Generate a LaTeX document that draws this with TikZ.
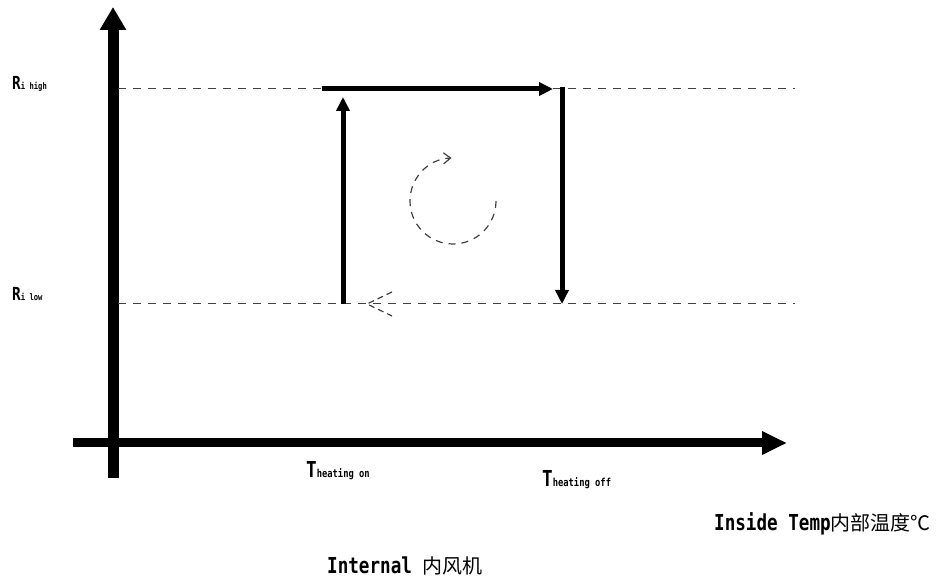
\documentclass[tikz,border=0pt]{standalone}
\usepackage{fontspec}
\usetikzlibrary{arrows.meta}
\newfontfamily\cjk{Noto Sans CJK SC}
\newfontfamily\latfont[FakeStretch=0.8]{DejaVu Sans Mono}
\begin{document}
\begin{tikzpicture}[x=1pt, y=1pt, >={Triangle[length=14pt,width=13pt]}]
            \tikzset{every node/.style={inner sep=0pt, font=\latfont\bfseries},
                thres/.style={black!75, line width=1pt, dash pattern=on 8pt off 7pt},
                loop/.style={line width=5pt, ->}}
            \def\xmin{73}\def\xmax{787}\def\ymin{105}\def\ymax{576}
            \def\ylow{279}\def\yhigh{494}\def\ton{343}\def\toff{562}
            \useasboundingbox (0,0) rectangle (951,583);
            \draw[line width=9pt, -{Triangle[length=25pt,width=22pt]}] (\xmin,140)--(\xmax,140);
            \draw[line width=11pt, -{Triangle[length=23pt,width=25pt]}] (113,\ymin)--(113,\ymax);
            \draw[thres] (118,\yhigh)--(795,\yhigh);
            \draw[thres] (118,\ylow)--(795,\ylow);
            \coordinate (onlow) at (\ton,\ylow);
            \coordinate (onhigh) at (\ton,\yhigh);
            \coordinate (topstart) at (322,\yhigh);
            \coordinate (offhigh) at (\toff,\yhigh);
            \coordinate (offtop) at (\toff,496);
            \coordinate (offlow) at (\toff,\ylow);
            \coordinate (ring) at (453,382);
            \draw[loop, shorten >=8pt] (onlow)--(onhigh);
            \draw[loop, shorten >=9pt] (topstart)--(offhigh);
            \draw[loop] (offtop)--(offlow);
            % direction of the cycle
            \draw[black!75, line width=1.2pt, dash pattern=on 7pt off 6pt, -{Straight Barb[length=7pt,width=11pt]}]
                (ring) ++(0:43) arc[start angle=0, end angle=-268, radius=43];
            \draw[black!75, line width=1.2pt, dash pattern=on 6pt off 4pt] (392,291)--(367,\ylow)--(392,267);
            \node[anchor=base west] (rhigh) at (12,493) {\fontsize{18}{20}\selectfont R\fontsize{9}{10}\selectfont i high};
            \node[anchor=base west] (rlow) at (12,282) {\fontsize{18}{20}\selectfont R\fontsize{9}{10}\selectfont i low};
            \node[anchor=base west] (tonlabel) at (306,105) {\fontsize{22}{24}\selectfont T\fontsize{11}{12}\selectfont heating on};
            \node[anchor=base west] (tofflabel) at (542,96) {\fontsize{22}{24}\selectfont T\fontsize{11}{12}\selectfont heating off};
            \node[anchor=base west] (xlabel) at (714,52) {\fontsize{22}{24}\selectfont Inside Temp{\cjk\mdseries\fontsize{20}{24}\selectfont 内部温度℃}};
            \node[anchor=base west] (caption) at (327,9) {\fontsize{22}{24}\selectfont Internal {\cjk\mdseries\fontsize{20}{24}\selectfont 内风机}};
        \end{tikzpicture}
\end{document}
